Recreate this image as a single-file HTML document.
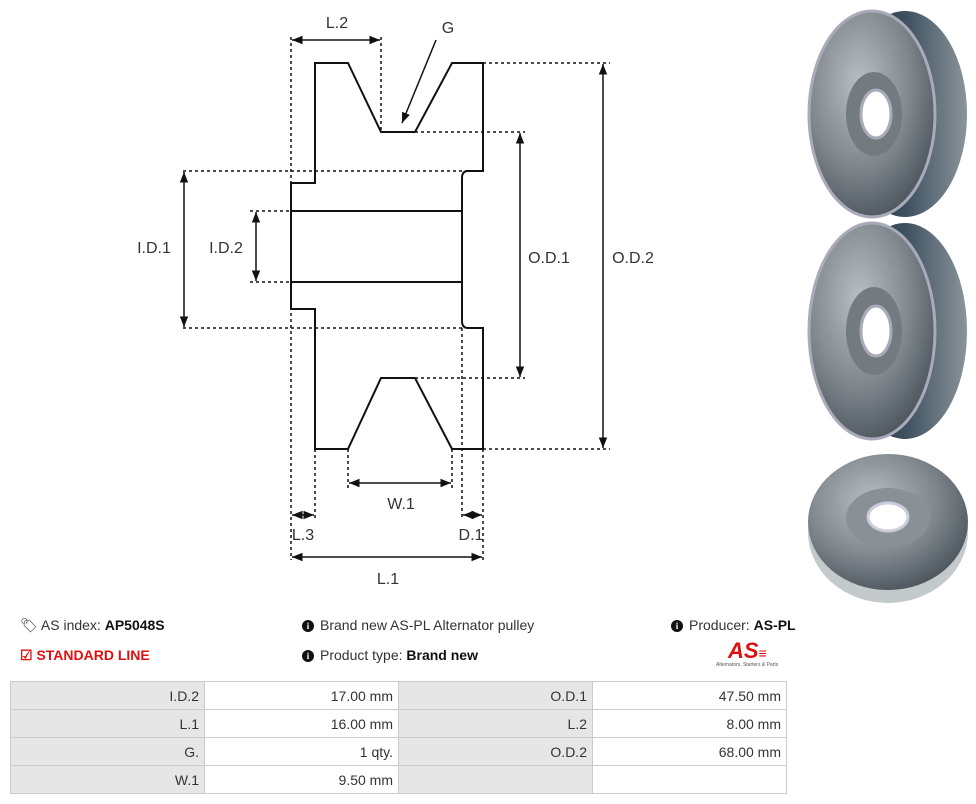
<!DOCTYPE html>
<html><head><meta charset="utf-8"><style>
body{margin:0;width:976px;height:804px;background:#fff;font-family:"Liberation Sans",sans-serif;position:relative;overflow:hidden}
.t{position:absolute;font-size:14px;color:#333;white-space:nowrap}
b{color:#111}
table{position:absolute;left:10px;top:681px;border-collapse:collapse;font-size:14px;color:#333;table-layout:fixed;width:777px}
td{border:1px solid #ccc;height:27px;padding:0 5px;text-align:right}
td.g{background:#e6e6e6}
.i{display:inline-block;width:12px;height:12px;border-radius:50%;background:#111;color:#fff;font-size:9px;font-weight:bold;text-align:center;line-height:12px;font-family:"Liberation Serif",serif;vertical-align:1px;margin-right:6px}
</style></head><body>
<svg width="976" height="610" style="position:absolute;left:0;top:0" font-family="Liberation Sans, sans-serif" font-size="16" fill="#333">
<defs>
<marker id="a" viewBox="0 0 10 10" refX="10" refY="5" markerWidth="7" markerHeight="7" orient="auto-start-reverse"><path d="M0,1 L10,5 L0,9z" fill="#111"/></marker>
<radialGradient id="f" cx="40%" cy="35%" r="70%"><stop offset="0" stop-color="#b9bec2"/><stop offset=".6" stop-color="#7d858b"/><stop offset="1" stop-color="#4a535a"/></radialGradient>
<linearGradient id="d" x1="0" x2="1"><stop offset="0" stop-color="#1f2d3a"/><stop offset=".5" stop-color="#3d5060"/><stop offset="1" stop-color="#8a949a"/></linearGradient>
</defs>
<g fill="none" stroke="#111" stroke-width="2">
<path d="M315,63 H348 L381,132 H415 L452,63 H483 V171 H468 Q462,171 462,178 V321 Q462,328 468,328 H483 V449 H452 L415,378 H381 L348,449 H315 V309 H291 V183 H315 Z"/>
<path d="M291,211 H462 M291,282 H462"/>
</g>
<g fill="none" stroke="#111" stroke-width="1.5" stroke-dasharray="3,3">
<path d="M183,171 H483 M183,328 H462 M250,211 H291 M250,282 H291 M291,37 V560 M381,37 V132 M483,63 H610 M415,132 H525 M415,378 H525 M483,449 H610 M315,449 V520 M348,449 V490 M452,449 V490 M462,328 V520 M483,449 V560"/>
</g>
<g stroke="#111" stroke-width="1.5" marker-start="url(#a)" marker-end="url(#a)">
<line x1="292" y1="40" x2="380" y2="40"/>
<line x1="184" y1="172" x2="184" y2="327"/>
<line x1="256" y1="212" x2="256" y2="281"/>
<line x1="520" y1="133" x2="520" y2="377"/>
<line x1="603" y1="64" x2="603" y2="448"/>
<line x1="349" y1="483" x2="451" y2="483"/>
<line x1="292" y1="557" x2="482" y2="557"/>
<line x1="292" y1="515" x2="314" y2="515"/>
<line x1="463" y1="515" x2="482" y2="515"/>
</g>
<line x1="436" y1="40" x2="402" y2="123" stroke="#111" stroke-width="1.5" marker-end="url(#a)"/>
<text x="337" y="28" text-anchor="middle">L.2</text>
<text x="448" y="33" text-anchor="middle">G</text>
<text x="154" y="253" text-anchor="middle">I.D.1</text>
<text x="226" y="253" text-anchor="middle">I.D.2</text>
<text x="549" y="263" text-anchor="middle">O.D.1</text>
<text x="633" y="263" text-anchor="middle">O.D.2</text>
<text x="401" y="509" text-anchor="middle">W.1</text>
<text x="303" y="540" text-anchor="middle">L.3</text>
<text x="471" y="540" text-anchor="middle">D.1</text>
<text x="388" y="584" text-anchor="middle">L.1</text>
<g>
<ellipse cx="905" cy="114" rx="62" ry="103" fill="url(#d)"/>
<ellipse cx="872" cy="114" rx="63" ry="103" fill="url(#f)" stroke="#aab" stroke-width="3"/>
<ellipse cx="874" cy="114" rx="28" ry="42" fill="#737b81"/>
<ellipse cx="876" cy="114" rx="15" ry="24" fill="#fff" stroke="#aab" stroke-width="3"/>
<ellipse cx="905" cy="331" rx="62" ry="108" fill="url(#d)"/>
<ellipse cx="872" cy="331" rx="63" ry="108" fill="url(#f)" stroke="#aab" stroke-width="3"/>
<ellipse cx="874" cy="331" rx="28" ry="44" fill="#737b81"/>
<ellipse cx="876" cy="331" rx="15" ry="25" fill="#fff" stroke="#aab" stroke-width="3"/>
<ellipse cx="888" cy="532" rx="80" ry="71" fill="#c4c9cc"/>
<ellipse cx="888" cy="522" rx="80" ry="68" fill="url(#f)"/>
<ellipse cx="888" cy="518" rx="42" ry="30" fill="#8a9196"/>
<ellipse cx="888" cy="517" rx="20" ry="14" fill="#fff" stroke="#ccd" stroke-width="3"/>
</g>
</svg>
<div class="t" style="left:20px;top:617px">&#x1F3F7;&#xFE0E; AS index: <b>AP5048S</b></div>
<div class="t" style="left:20px;top:647px;color:#e01010;font-weight:bold">&#9745; STANDARD LINE</div>
<div class="t" style="left:302px;top:617px"><span class="i">i</span>Brand new AS-PL Alternator pulley</div>
<div class="t" style="left:302px;top:647px"><span class="i">i</span>Product type: <b>Brand new</b></div>
<div class="t" style="left:671px;top:617px"><span class="i">i</span>Producer: <b>AS-PL</b></div>
<div class="t" style="left:728px;top:638px;color:#e01010;font-weight:bold;font-style:italic;font-size:22px">AS<span style="font-size:14px">&#8801;</span></div>
<div class="t" style="left:716px;top:662px;font-size:5px;color:#555">Alternators, Starters &amp; Parts</div>
<table>
<tr><td class="g">I.D.2</td><td>17.00 mm</td><td class="g">O.D.1</td><td>47.50 mm</td></tr>
<tr><td class="g">L.1</td><td>16.00 mm</td><td class="g">L.2</td><td>8.00 mm</td></tr>
<tr><td class="g">G.</td><td>1 qty.</td><td class="g">O.D.2</td><td>68.00 mm</td></tr>
<tr><td class="g">W.1</td><td>9.50 mm</td><td class="g"></td><td></td></tr>
</table>
</body></html>
